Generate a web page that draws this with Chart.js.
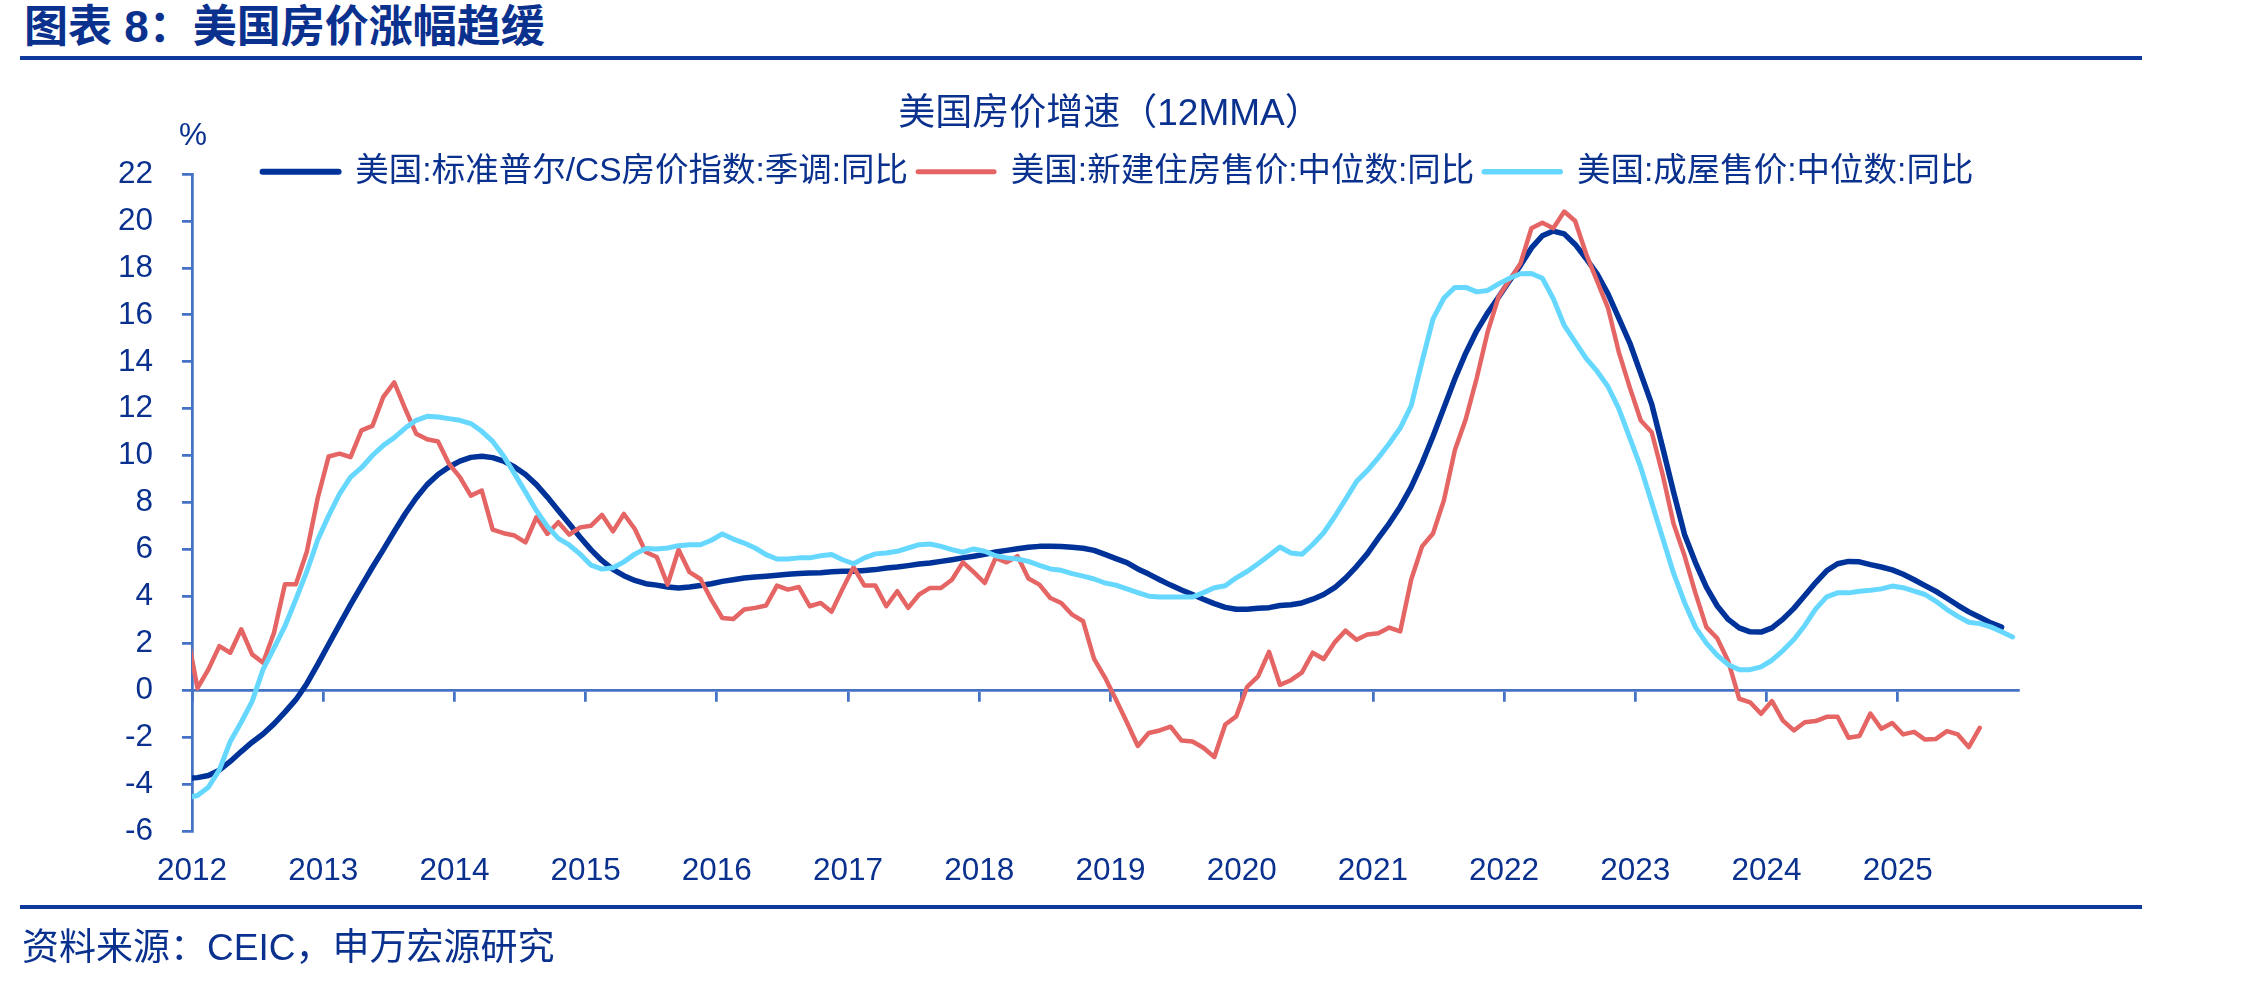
<!DOCTYPE html>
<html><head><meta charset="utf-8">
<script src="https://cdn.jsdelivr.net/npm/chart.js@4.4.1/dist/chart.umd.min.js"></script>
<style>
html,body{margin:0;padding:0;background:#fff;}
body{width:2244px;height:982px;position:relative;overflow:hidden;font-family:"Liberation Sans","Noto Sans CJK SC",sans-serif;color:#0b318f;}
#c{position:absolute;left:0;top:0;width:2244px;height:982px;}
.hd{position:absolute;left:24px;top:5px;font-size:44px;font-weight:bold;line-height:44px;white-space:nowrap;}
.rule{position:absolute;left:20px;width:2122px;height:4px;background:#0d3a9c;}
.src{position:absolute;left:22px;top:929px;font-size:37px;line-height:37px;white-space:nowrap;}
.unit{position:absolute;left:179px;top:119px;font-size:31.5px;line-height:31.5px;}
</style></head>
<body>
<div class="hd">图表 8：美国房价涨幅趋缓</div>
<div class="rule" style="top:55.5px"></div>
<canvas id="c" width="2244" height="982"></canvas>
<div class="unit">%</div>
<div class="rule" style="top:904.5px"></div>
<div class="src">资料来源：CEIC，申万宏源研究</div>
<script>
// ---- data (monthly, first value = Dec 2011) ----
const yearLabels = ['2012','2013','2014','2015','2016','2017','2018','2019','2020','2021','2022','2023','2024','2025'];
const seriesNames = ['美国:标准普尔/CS房价指数:季调:同比','美国:新建住房售价:中位数:同比','美国:成屋售价:中位数:同比'];
const csYoY = [-3.75,
 -3.71,-3.62,-3.39,-3.02,-2.60,-2.20,-1.85,-1.42,-0.92,-0.39,0.29,1.11,
 1.97,2.82,3.66,4.46,5.25,6.00,6.78,7.53,8.20,8.77,9.20,9.52,
 9.77,9.93,9.98,9.92,9.77,9.52,9.20,8.77,8.24,7.67,7.10,6.53,
 5.99,5.53,5.16,4.89,4.69,4.55,4.49,4.41,4.37,4.41,4.47,4.55,
 4.65,4.72,4.79,4.84,4.87,4.91,4.95,4.98,5.01,5.02,5.06,5.08,
 5.08,5.11,5.15,5.22,5.26,5.32,5.39,5.43,5.50,5.57,5.65,5.72,
 5.80,5.90,5.97,6.04,6.10,6.14,6.14,6.13,6.10,6.06,5.97,5.80,
 5.62,5.45,5.18,4.96,4.72,4.49,4.28,4.09,3.89,3.70,3.54,3.46,
 3.46,3.50,3.53,3.62,3.65,3.73,3.89,4.09,4.38,4.79,5.28,5.83,
 6.49,7.12,7.83,8.66,9.69,10.83,12.05,13.28,14.38,15.32,16.09,16.76,
 17.45,18.11,18.85,19.37,19.57,19.45,19.00,18.40,17.75,16.90,15.85,14.80,
 13.50,12.20,10.35,8.45,6.65,5.45,4.40,3.60,3.03,2.67,2.50,2.49,
 2.67,3.04,3.50,4.05,4.60,5.10,5.40,5.50,5.48,5.36,5.26,5.14,
 4.95,4.72,4.47,4.22,3.93,3.63,3.35,3.12,2.88,2.70];
const newHomeYoY = [2.57,
 0.10,0.90,1.89,1.61,2.61,1.54,1.18,2.46,4.53,4.53,5.91,8.20,
 9.97,10.09,9.94,11.08,11.27,12.51,13.12,12.00,10.94,10.70,10.61,9.66,
 9.09,8.30,8.52,6.85,6.70,6.60,6.31,7.38,6.67,7.17,6.64,6.95,
 7.02,7.48,6.78,7.52,6.88,5.90,5.69,4.51,6.00,5.04,4.75,3.87,
 3.09,3.05,3.45,3.52,3.62,4.47,4.30,4.41,3.59,3.73,3.36,4.33,
 5.25,4.47,4.47,3.59,4.23,3.52,4.09,4.37,4.37,4.72,5.46,5.04,
 4.58,5.65,5.46,5.72,4.77,4.51,3.94,3.73,3.23,2.95,1.35,0.55,
 -0.38,-1.35,-2.36,-1.81,-1.70,-1.54,-2.13,-2.17,-2.44,-2.83,-1.45,-1.10,
 0.16,0.60,1.65,0.24,0.44,0.76,1.61,1.34,2.05,2.55,2.16,2.39,
 2.44,2.68,2.52,4.72,6.14,6.69,8.11,10.24,11.57,13.31,15.28,16.77,
 17.48,18.19,19.69,19.92,19.69,20.40,20.00,18.60,17.45,16.30,14.40,12.90,
 11.50,11.00,9.20,7.10,5.75,4.15,2.70,2.22,1.25,-0.35,-0.50,-0.99,
 -0.45,-1.28,-1.70,-1.35,-1.30,-1.12,-1.12,-2.01,-1.94,-0.98,-1.63,-1.38,
 -1.87,-1.76,-2.09,-2.06,-1.73,-1.87,-2.41,-1.59];
const existingYoY = [-4.57,
 -4.47,-4.12,-3.38,-2.17,-1.35,-0.46,0.90,1.81,2.74,3.89,5.07,6.42,
 7.45,8.38,9.09,9.49,10.01,10.44,10.77,11.18,11.51,11.68,11.65,11.58,
 11.51,11.37,11.04,10.61,9.99,9.23,8.45,7.66,6.99,6.48,6.20,5.81,
 5.34,5.17,5.23,5.48,5.81,6.05,6.03,6.07,6.17,6.21,6.21,6.40,
 6.67,6.45,6.28,6.07,5.79,5.60,5.60,5.65,5.65,5.74,5.79,5.57,
 5.40,5.65,5.82,5.86,5.93,6.07,6.21,6.24,6.14,6.00,5.89,6.03,
 5.93,5.74,5.65,5.60,5.50,5.33,5.18,5.12,4.98,4.87,4.75,4.58,
 4.49,4.33,4.17,4.02,3.98,3.98,3.98,3.98,4.17,4.38,4.46,4.80,
 5.07,5.40,5.75,6.11,5.86,5.80,6.22,6.72,7.40,8.14,8.90,9.37,
 9.92,10.52,11.18,12.13,14.02,15.83,16.72,17.17,17.17,16.98,17.04,17.32,
 17.56,17.75,17.76,17.56,16.69,15.55,14.85,14.15,13.60,12.95,12.00,10.75,
 9.50,8.00,6.50,5.00,3.75,2.70,2.02,1.50,1.10,0.89,0.89,1.01,
 1.29,1.70,2.17,2.77,3.48,3.99,4.16,4.16,4.23,4.27,4.33,4.45,
 4.38,4.23,4.09,3.80,3.45,3.16,2.91,2.85,2.71,2.50,2.28];

// ---- styling ----
const FONT = '"Liberation Sans","Noto Sans CJK SC",sans-serif';
const TXT = '#0b318f';
const AX = '#4472c4';
const COLORS = ['#003399', '#e56565', '#66d8ff'];
const WIDTHS = [5.5, 4.5, 5];
const firstMonth = -1;          // data starts Dec 2011 (months counted from Jan 2012)
const toPoints = arr => arr.map((v, i) => ({x: i + firstMonth + 0.5, y: v}));

Chart.defaults.font.family = FONT;

const legendNudge = {
  id: 'legendNudge',
  afterLayout(chart, args, opts) {
    const lg = chart.legend; if (!lg) return;
    lg.top += opts.dy; lg.bottom += opts.dy;
    lg.left += opts.dx; lg.right += opts.dx;
  }
};

const mk = (i, arr, order) => ({
  label: seriesNames[i], data: toPoints(arr),
  borderColor: COLORS[i], backgroundColor: COLORS[i],
  borderWidth: WIDTHS[i], pointRadius: 0, pointHoverRadius: 0,
  tension: 0, borderCapStyle: 'round', borderJoinStyle: 'round',
  clip: 0, order: order
});

new Chart(document.getElementById('c'), {
  type: 'line',
  data: { datasets: [ mk(0, csYoY, 3), mk(1, newHomeYoY, 2), mk(2, existingYoY, 1) ] },
  options: {
    responsive: false, maintainAspectRatio: false, animation: false, devicePixelRatio: 1, events: [],
    layout: { padding: { left: 0, right: 24, top: 0, bottom: 70 } },
    plugins: {
      tooltip: { enabled: false },
      title: { display: true, text: '美国房价增速（12MMA）', color: TXT,
        font: { size: 37, weight: 'normal', lineHeight: 1.2 }, padding: { top: 92.5, bottom: -16.4 } },
      legend: { display: true, position: 'top', align: 'center',
        labels: { usePointStyle: true, pointStyle: 'line', pointStyleWidth: 76, padding: 10, color: TXT,
          font: { size: 33.5 },
          sort: (a, b) => a.datasetIndex - b.datasetIndex,
          generateLabels: chart => Chart.defaults.plugins.legend.labels.generateLabels(chart).map(l =>
            Object.assign(l, { lineWidth: WIDTHS[l.datasetIndex] + 0.5, lineCap: 'round', strokeStyle: COLORS[l.datasetIndex] })) } },
      legendNudge: { dx: 8, dy: 24.45 }
    },
    scales: {
      y: { type: 'linear', position: 'left', min: -6, max: 22,
        ticks: { stepSize: 2, maxTicksLimit: 20, color: TXT, font: { size: 31.5 }, padding: 29 },
        grid: { display: true, drawOnChartArea: false, drawTicks: true, tickLength: 10, color: AX, lineWidth: 2.75 },
        border: { display: true, color: AX, width: 2.75 },
        afterFit: s => { s.width = 192; } },
      x: { type: 'linear', position: { y: 0 }, min: 0, max: 167,
        ticks: { display: false, stepSize: 12, maxTicksLimit: 20, includeBounds: false },
        grid: { display: true, drawOnChartArea: false, drawTicks: true, tickLength: 10, color: AX, lineWidth: 2.75 },
        border: { display: true, color: AX, width: 2.75 } },
      x2: { type: 'linear', position: 'bottom', min: 0, max: 167,
        ticks: { stepSize: 12, maxTicksLimit: 20, includeBounds: false, color: TXT, font: { size: 31.5 },
          padding: 21.4, maxRotation: 0, autoSkip: false,
          callback: v => yearLabels[Math.round(v / 12)] || '' },
        grid: { display: false, drawTicks: false }, border: { display: false } },
      yR: { type: 'linear', position: 'right', display: true,
        ticks: { display: false }, grid: { display: false, drawTicks: false }, border: { display: false },
        afterFit: s => { s.width = 202; } }
    }
  },
  plugins: [legendNudge]
});
</script>
</body></html>
